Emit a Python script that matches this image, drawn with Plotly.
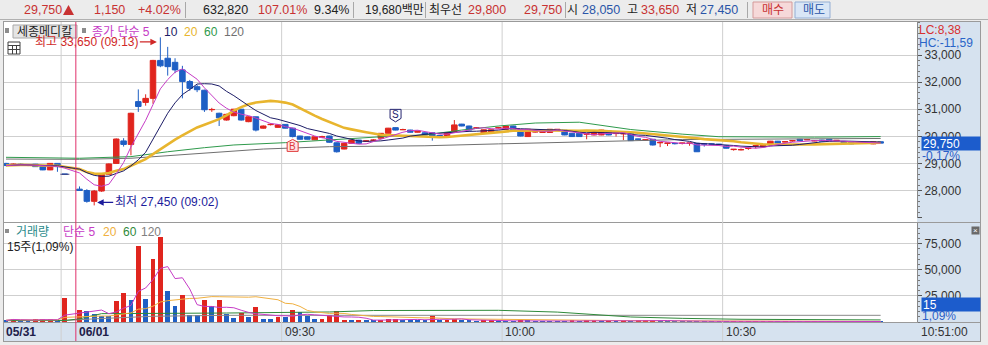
import plotly.graph_objects as go
import pandas as pd

W, H = 988, 345
def fx(px): return px / W
def fy(py): return 1 - py / H

# ---------------- data ----------------
candle_idx = list(range(0, 9)) + list(range(10, 120))
opens = [29000,28950,28970,28950,28970,28920,28760,29000,28600,
 28050,28000,27600,27980,28600,29000,29830,29700,31280,31250,
 31400,32800,32880,32730,32450,32020,31830,31700,30980,30850,
 30600,30760,31000,30540,30720,30300,30430,30330,30440,30300,
 30010,29980,29870,29970,30010,29760,29530,29740,29860,29820,
 29850,29930,30110,30320,30240,30230,30150,30130,30130,30030,
 30010,30170,30450,30380,30300,30110,30110,30310,30260,30380,
 30230,29990,30160,30140,30140,30210,30230,30110,30110,30080,
 30050,30050,30200,30100,30090,30110,29900,29860,29890,29760,
 29740,29740,29740,29740,29740,29720,29720,29710,29650,29510,
 29500,29550,29640,29620,29720,29820,29790,29830,29890,29870,
 29830,29860,29890,29840,29800,29780,29750,29740,29720,29800]
highs = [29020,29000,29000,28970,28980,28930,29010,29010,28600,
 28150,28050,28020,28620,29000,29920,29930,30870,31730,31550,
 32820,33650,33300,32880,32600,32080,31900,31720,31050,30870,
 30830,31010,31010,30740,30730,30400,30480,30440,30450,30310,
 30020,29990,29990,30020,30020,29770,29760,29870,29870,29860,
 29890,30120,30310,30330,30280,30240,30200,30140,30140,30040,
 30140,30600,30460,30390,30340,30250,30250,30350,30390,30390,
 30240,30270,30200,30240,30260,30260,30240,30120,30120,30100,
 30180,30240,30210,30120,30120,30120,29910,29880,29900,29780,
 29760,29760,29760,29760,29750,29730,29730,29720,29660,29530,
 29550,29580,29660,29710,29830,29830,29820,29850,29900,29900,
 29860,29870,29900,29860,29810,29790,29760,29760,29810,29810]
lows = [28900,28930,28920,28900,28870,28750,28750,28690,28600,
 27990,27550,27450,27950,28580,28980,29620,29300,30900,31130,
 31200,32550,32240,32330,31400,31680,31630,30900,30900,30380,
 30580,30740,30580,30520,30180,30280,30400,30320,30290,29960,
 29880,29880,29860,29940,29760,29400,29520,29730,29730,29790,
 29830,29920,30100,30220,30230,30140,30140,30040,29840,30000,
 30000,30160,30370,30220,30280,30100,30100,30290,30250,30250,
 30000,29980,30140,30130,30130,30200,30040,29980,29980,29890,
 30040,30040,30040,29990,29860,29830,29880,29850,29660,29600,
 29640,29700,29700,29650,29420,29620,29690,29680,29550,29470,
 29480,29500,29550,29610,29710,29740,29780,29800,29830,29860,
 29820,29820,29830,29830,29740,29710,29730,29730,29710,29740]
closes = [28920,28970,28950,28930,28880,28760,29000,28880,28600,
 28000,27600,27980,28600,28980,29900,29700,30850,31100,31400,
 32800,32600,32570,32450,32020,31770,31720,30980,30990,30680,
 30810,31000,30600,30720,30230,30380,30440,30420,30300,29990,
 29890,29890,29980,29980,29780,29430,29740,29860,29740,29830,
 29860,30110,30300,30230,30250,30150,30190,30050,30010,30010,
 30130,30420,30380,30230,30310,30240,30240,30320,30380,30260,
 30010,30260,30170,30230,30260,30260,30050,29990,29990,30090,
 30170,30230,30050,30110,30100,29840,29890,29870,29680,29770,
 29750,29730,29750,29750,29430,29710,29710,29700,29560,29520,
 29510,29560,29650,29700,29820,29750,29800,29840,29840,29880,
 29840,29830,29840,29850,29750,29720,29740,29750,29800,29750]
volumes = [1600,3200,1600,700,2500,3200,3200,1000,23000,
 11200,10200,7400,5500,5500,19800,27800,20800,72800,21700,
 60100,81400,29400,15300,25600,6400,6400,20800,15300,20800,
 7400,3800,9000,5000,14400,3200,2500,5000,5000,11900,
 9600,5500,2500,2800,6400,10200,2300,2300,1700,1400,
 1400,2300,3200,3200,2300,2300,1400,1400,5500,2300,
 2300,3200,1400,1400,900,1500,1500,800,900,800,
 1400,1000,800,900,800,700,900,1500,800,1400,
 1500,900,1400,800,1400,900,1800,1800,1800,900,
 800,700,800,700,900,700,600,700,800,600,
 500,600,600,700,700,600,500,500,600,500,
 500,600,600,500,700,600,500,500,800,15]
vol_up = [0,1,0,0,1,1,1,0,1,
 1,0,0,0,0,1,1,0,1,0,
 1,1,0,0,1,0,0,1,0,1,
 0,0,1,0,1,0,0,1,0,1,
 0,0,0,1,1,1,1,0,1,0,
 0,1,1,1,0,0,0,0,1,0,
 1,1,0,0,0,1,1,0,0,0,
 1,0,0,0,0,0,0,1,0,1,
 1,0,1,0,1,0,1,1,1,0,
 0,0,0,0,0,0,0,0,0,1,
 1,1,1,1,1,0,1,1,0,1,
 1,0,0,1,0,0,0,0,1,0]

# long moving averages (history before the visible window)
ma60_idx = [0,10,17,22,27,31,38,44,52,57,62,67,72,78,85,92,97,110,119]
ma60_val = [29225,29190,29250,29430,29580,29680,29765,29860,30000,30050,30230,30380,30490,30520,30250,30080,29985,29970,29990]
ma120_idx = [0,10,17,26,35,44,57,67,92,119]
ma120_val = [29160,29150,29190,29370,29530,29617,29650,29720,29880,29920]
vma60_idx = [0,8,10,13,30,44,50,67,75,80,85,92,100,119]
vma60_val = [1500,1500,3000,8000,8600,9600,11000,11200,9500,7400,4800,3500,2600,2000]
vma120_idx = [0,8,12,20,30,119]
vma120_val = [1200,1400,3000,5500,6400,6400]

signal_idx = [39, 53]
signal_type = ["B", "S"]

price_ticks = [27000, 28000, 29000, 30000, 31000, 32000, 33000]
vol_ticks = [25000, 50000, 75000]
grid_pos = [7.5, 37.5, 67.5, 97.5]
day_sep = 9.5
time_labels = ["06/01", "09:30", "10:00", "10:30"]
time_pos = [9.5, 37.5, 67.5, 97.5]

# ---------------- styling ----------------
RED = "#e0251e"; BLUE = "#1f5fc4"
C5 = "#c63cc6"; C10 = "#1c1c66"; C20 = "#e8b52e"; C60 = "#2f9a4c"; C120 = "#707070"
TRED = "#c83232"; TBLUE = "#2a55a8"; TBLACK = "#222222"
PANEL = "#d6e2ef"; GRID = "#cfcfcf"
FONT = "Liberation Sans, Noto Sans CJK KR, sans-serif"

SLOT, FIRST = 7.35, 6.0
xr = [(4 - FIRST) / SLOT, (917 - FIRST) / SLOT]
p_top = 33000 + (55 - 22) / 27.1 * 1000
p_bot = p_top - 196 / 27.1 * 1000
v_top = 99 / 26.1 * 25000

fig = go.Figure()

cs = pd.Series(closes)
ma5 = cs.rolling(5, min_periods=1).mean()
ma10 = cs.rolling(10, min_periods=1).mean()
ma20 = cs.rolling(20, min_periods=1).mean()

def line(x, y, color, width, xa="x", ya="y"):
    fig.add_trace(go.Scatter(x=x, y=y, mode="lines", line=dict(color=color, width=width),
                             xaxis=xa, yaxis=ya, hoverinfo="skip", showlegend=False))

line(ma120_idx, ma120_val, C120, 1)
line(ma60_idx, ma60_val, C60, 1)
line(candle_idx, ma20, C20, 2.6)
line(candle_idx, ma10, C10, 1)
line(candle_idx, ma5, C5, 1)

fig.add_trace(go.Candlestick(
    x=candle_idx, open=opens, high=highs, low=lows, close=closes,
    increasing=dict(line=dict(color=RED, width=1), fillcolor=RED),
    decreasing=dict(line=dict(color=BLUE, width=1), fillcolor=BLUE),
    whiskerwidth=0, xaxis="x", yaxis="y", hoverinfo="skip", showlegend=False))

fig.add_trace(go.Bar(x=candle_idx, y=volumes, width=0.66,
                     marker=dict(color=[RED if u else BLUE for u in vol_up], line=dict(width=0)),
                     xaxis="x2", yaxis="y2", hoverinfo="skip", showlegend=False))
vs = pd.Series(volumes)
line(vma120_idx, vma120_val, "#8a8a8a", 1, "x2", "y2")
line(vma60_idx, vma60_val, "#2f8a3a", 1, "x2", "y2")
line(candle_idx, vs.rolling(20, min_periods=1).mean(), "#f0b040", 1, "x2", "y2")
line(candle_idx, vs.rolling(5, min_periods=1).mean(), C5, 1, "x2", "y2")

# ---------------- shapes ----------------
shapes = []
def rect(x0, y0, x1, y1, fill, lc=None, layer="below", lw=1):
    shapes.append(dict(type="rect", xref="paper", yref="paper", x0=fx(x0), x1=fx(x1), y0=fy(y1), y1=fy(y0),
                       fillcolor=fill, line=dict(color=lc or fill, width=lw if lc else 0), layer=layer))
def hline(x0, x1, y, color, layer="below"):
    shapes.append(dict(type="line", xref="paper", yref="paper", x0=fx(x0), x1=fx(x1), y0=fy(y), y1=fy(y),
                       line=dict(color=color, width=1), layer=layer))
def vline(x, y0, y1, color, layer="below"):
    shapes.append(dict(type="line", xref="paper", yref="paper", x0=fx(x), x1=fx(x), y0=fy(y0), y1=fy(y1),
                       line=dict(color=color, width=1), layer=layer))

rect(4, 22, 917, 322, "white")
rect(917, 22, 980, 341, PANEL)
rect(4, 322, 917, 341, PANEL)
hline(3, 981, 21.5, "#9a9a9a")
hline(3, 981, 222.5, "#9a9a9a")
hline(3, 981, 322.5, "#9a9a9a")
hline(3, 981, 341.5, "#9a9a9a")
vline(3.5, 21.5, 341.5, "#9a9a9a")
vline(980.5, 21.5, 341.5, "#9a9a9a")
for g in grid_pos:
    shapes.append(dict(type="line", xref="x", yref="paper", x0=g, x1=g, y0=fy(341), y1=fy(22),
                       line=dict(color=GRID, width=1), layer="below"))
shapes.append(dict(type="line", xref="x", yref="paper", x0=day_sep, x1=day_sep, y0=fy(341), y1=fy(22),
                   line=dict(color="#e0306a", width=1), layer="above"))
prev_close = closes[8]
shapes.append(dict(type="line", xref="x", yref="y", x0=7.4, x1=9.4, y0=prev_close, y1=prev_close,
                   line=dict(color="#404080", width=1, dash="dash"), layer="above"))

# header bar
hline(0, 988, 19.5, "#b0b0b0")
for sx in [185, 353, 425, 565, 747]:
    vline(sx + 0.5, 2, 18, "#a8a8a8")
rect(753, 2, 792, 18, "#f6d9d9", "#d49a9a")
rect(795, 2, 830, 18, "#d9e6f6", "#94aed4")
# up triangle next to the last price
shapes.append(dict(type="path", xref="paper", yref="paper",
                   path="M %f,%f L %f,%f L %f,%f Z" % (fx(63), fy(15), fx(68.5), fy(5), fx(74), fy(15)),
                   fillcolor=TRED, line=dict(width=0), layer="above"))
# legend boxes / icons
rect(13, 25, 77, 38, "#e4e4e4", "#a8a8a8")
rect(5, 28, 9, 33, "#8c8c8c")
rect(82, 28, 86, 33, "#8c8c8c")
rect(5, 229, 9, 233, "#8c8c8c")
rect(8, 42, 20, 54, "white", "#404040", layer="above")
hline(8, 20, 45.5, "#404040", "above")
hline(8, 20, 49.5, "#404040", "above")
vline(12.5, 45, 54, "#404040", "above")
vline(16.5, 45, 54, "#404040", "above")

# ---------------- annotations ----------------
ann = []
def txt(x, y, s, color=TBLACK, size=12, xanchor="left", bold=False, **kw):
    d = dict(xref="paper", yref="paper", x=fx(x), y=fy(y), text=("<b>%s</b>" % s) if bold else s,
             showarrow=False, xanchor=xanchor, yanchor="middle",
             font=dict(color=color, size=size, family=FONT))
    d.update(kw)
    ann.append(d)

day_o = opens[9]
day_h = max(highs[9:]); day_l = min(lows[9:])
last = closes[-1]
chg = last - prev_close
pct = chg / prev_close * 100

txt(22, 10, f"{last:,}", TRED, 12.5)
txt(92, 10, f"{chg:,}", TRED, 12.5)
txt(136, 10, f"+{pct:.2f}%", TRED, 12.5)
txt(201, 10, "632,820", TBLACK, 12.5)
txt(256, 10, "107.01%", TRED, 12.5)
txt(312, 10, "9.34%", TBLACK, 12.5)
txt(363, 10, "19,680백만", TBLACK, 12)
txt(427, 10, "최우선", TBLACK, 12)
txt(466, 10, "29,800", TRED, 12.5)
txt(522, 10, f"{last:,}", TRED, 12.5)
txt(565, 10, "시", TBLACK, 12)
txt(580, 10, f"{day_o:,}", TBLUE, 12.5)
txt(625, 10, "고", TBLACK, 12)
txt(639, 10, f"{day_h:,}", TRED, 12.5)
txt(684, 10, "저", TBLACK, 12)
txt(698, 10, f"{day_l:,}", TBLUE, 12.5)
txt(760, 10, "매수", TRED, 12)
txt(801, 10, "매도", TBLUE, 12)

txt(15, 31.5, "세종메디칼")
txt(90, 31.5, "종가 단순 5", C5)
txt(162, 31.5, "10", C10)
txt(182, 31.5, "20", C20)
txt(202, 31.5, "60", C60)
txt(222, 31.5, "120", C120)

txt(14, 231.5, "거래량", "#2a8a8a")
txt(61, 231.5, "단순 5", C5)
txt(101, 231.5, "20", "#f0b040")
txt(121, 231.5, "60", "#2f8a3a")
txt(139, 231.5, "120", "#808080")
txt(5, 246.5, f"{volumes[-1]}주(1,09%)")

txt(917, 30.5, "LC:8,38", "#d83030")
txt(917, 43.5, "HC:-11,59", "#2a64c8")
ann.append(dict(xref="paper", yref="y", x=fx(921), y=last, text=f"{last:,}", showarrow=False,
                xanchor="left", yanchor="middle", align="left", width=56, height=11, borderpad=1,
                bgcolor="#1c5ccc", font=dict(color="white", size=12, family=FONT)))
ann.append(dict(xref="paper", yref="y", x=fx(920), y=last, yshift=-13, text="-0,17%", showarrow=False,
                xanchor="left", yanchor="middle", font=dict(color="#2a5ec8", size=12, family=FONT)))
ann.append(dict(xref="paper", yref="paper", x=fx(921), y=fy(304), text=f"{volumes[-1]}", showarrow=False,
                xanchor="left", yanchor="middle", align="left", width=56, height=11, borderpad=1,
                bgcolor="#1c5ccc", font=dict(color="white", size=12, family=FONT)))
txt(920, 316, "1,09%", "#2a5ec8")
ann.append(dict(xref="paper", yref="paper", x=fx(975.5), y=fy(230.5), text="×", showarrow=False,
                xanchor="center", yanchor="middle", width=7, height=7, borderpad=0,
                bgcolor="#6a6a6a", font=dict(color="white", size=8, family=FONT)))

# time axis labels
txt(4, 331.5, "05/31", "#20204a", bold=True)
for p, lab in zip(time_pos, time_labels):
    ann.append(dict(xref="x", yref="paper", x=p, y=fy(331.5), xshift=1, text=("<b>%s</b>" % lab) if "/" in lab else lab,
                    showarrow=False, xanchor="left", yanchor="middle",
                    font=dict(color="#20204a" if "/" in lab else "#333333", size=12, family=FONT)))
txt(919, 331.5, "10:51:00", "#333333")

# high / low markers
hi_i = highs.index(day_h); lo_i = lows.index(day_l)
ann.append(dict(xref="x", yref="y", x=candle_idx[hi_i], y=day_h, xshift=-3.5, yshift=-4.5,
                text="최고 %s (09:13)" % f"{day_h:,}", showarrow=True, ax=-17, ay=0, xanchor="right",
                arrowhead=2, arrowsize=1, arrowwidth=1.3, arrowcolor="#d02828",
                font=dict(color="#d02828", size=12, family=FONT)))
ann.append(dict(xref="x", yref="y", x=candle_idx[lo_i], y=day_l, xshift=3, yshift=3,
                text="최저 %s (09:02)" % f"{day_l:,}", showarrow=True, ax=16, ay=0, xanchor="left",
                arrowhead=2, arrowsize=1, arrowwidth=1.3, arrowcolor="#1c1c9c",
                font=dict(color="#1c1c9c", size=12, family=FONT)))

# buy/sell signals (pentagon tags anchored to the candle, sized in pixels)
for si, st in zip(signal_idx, signal_type):
    k = candle_idx.index(si)
    if st == "B":
        path = "M 0,-2 L 5.5,-5 L 5.5,-14 L -5.5,-14 L -5.5,-5 Z"
        shapes.append(dict(type="path", xref="x", yref="y", xsizemode="pixel", ysizemode="pixel",
                           xanchor=si, yanchor=lows[k], path=path, fillcolor="#ffe4e4",
                           line=dict(color="#e03a3a", width=1), layer="above"))
        ann.append(dict(xref="x", yref="y", x=si, y=lows[k], yshift=-9.5, text="B", showarrow=False,
                        xanchor="center", yanchor="middle",
                        font=dict(color="#e03a3a", size=10, family=FONT)))
    else:
        path = "M 0,5.5 L 5.5,9 L 5.5,18 L -5.5,18 L -5.5,9 Z"
        shapes.append(dict(type="path", xref="x", yref="y", xsizemode="pixel", ysizemode="pixel",
                           xanchor=si, yanchor=highs[k], path=path, fillcolor="white",
                           line=dict(color="#22226e", width=1), layer="above"))
        ann.append(dict(xref="x", yref="y", x=si, y=highs[k], yshift=13, text="S", showarrow=False,
                        xanchor="center", yanchor="middle",
                        font=dict(color="#22226e", size=10, family=FONT)))

fig.update_layout(
    width=W, height=H, margin=dict(l=0, r=0, t=0, b=0),
    paper_bgcolor="#ececec", plot_bgcolor="rgba(0,0,0,0)",
    font=dict(family=FONT, size=12, color="#333333"),
    showlegend=False, hovermode=False, bargap=0, boxgap=0.25, boxgroupgap=0,
    shapes=shapes, annotations=ann,
    xaxis=dict(domain=[fx(4), fx(917)], range=xr, visible=False, fixedrange=True,
               rangeslider=dict(visible=False), anchor="y"),
    xaxis2=dict(domain=[fx(4), fx(917)], range=xr, visible=False, fixedrange=True, anchor="y2"),
    yaxis=dict(domain=[fy(218), fy(22)], range=[p_bot, p_top], side="right", anchor="x",
               tickvals=price_ticks, ticktext=["" if v == 27000 else f"{v:,}" for v in price_ticks],
               ticks="outside", ticklen=4, tickcolor="#555555", showline=True, linecolor="#8a8a8a",
               showgrid=True, gridcolor=GRID, zeroline=False, fixedrange=True,
               tickfont=dict(size=12, color="#333333", family=FONT),
               minor=dict(tickmode="linear", tick0=0, dtick=200, ticks="outside", ticklen=2,
                          tickcolor="#777777", showgrid=False)),
    yaxis2=dict(domain=[fy(322), fy(223)], range=[0, v_top], side="right", anchor="x2",
                tickvals=vol_ticks, ticktext=[f"{v:,}" for v in vol_ticks],
                ticks="outside", ticklen=4, tickcolor="#555555", showline=True, linecolor="#8a8a8a",
                showgrid=True, gridcolor=GRID, zeroline=False, fixedrange=True,
                tickfont=dict(size=12, color="#333333", family=FONT),
                minor=dict(tickmode="linear", tick0=0, dtick=5000, ticks="outside", ticklen=2,
                           tickcolor="#777777", showgrid=False)),
)

fig.write_html("out.html")
